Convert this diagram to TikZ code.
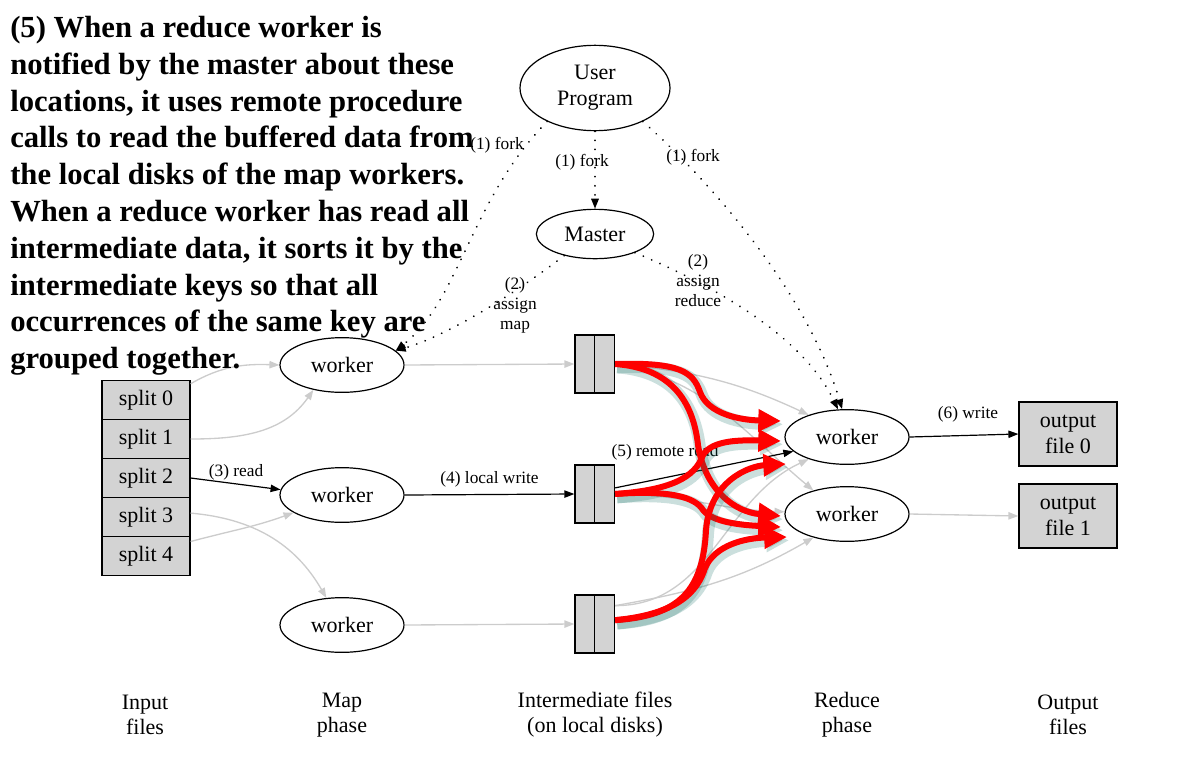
\documentclass[tikz,border=0pt]{standalone}
\usepackage{fontspec}
\setmainfont{Liberation Serif}
\usetikzlibrary{shapes.geometric,arrows.meta}

\definecolor{edgegray}{RGB}{204,204,204}
\definecolor{boxgray}{RGB}{211,211,211}
\definecolor{glow}{RGB}{20,110,100}

\tikzset{
  every node/.style={font=\fontsize{16.5}{19.5}\selectfont},
  job/.style={draw,ellipse,line width=0.9pt,minimum width=93pt,minimum height=41pt,inner sep=0pt},
  filebox/.style={draw,fill=boxgray,line width=0.9pt,minimum width=66pt,minimum height=29.25pt,inner sep=0pt},
  half/.style={draw,fill=boxgray,line width=0.9pt,minimum width=15pt,minimum height=43.5pt,inner sep=0pt},
  tip/.style={-{Triangle[length=7.5pt,width=5.5pt]}},
  faint/.style={tip,edgegray,line width=1pt},
  solid edge/.style={tip,black,line width=0.9pt},
  dots/.style={tip,line width=1.5pt,dash pattern=on 0.01pt off 6.8pt,line cap=round},
  lbl/.style={font=\fontsize{13}{15}\selectfont,align=center,inner sep=0pt},
  phase/.style={font=\fontsize{16.5}{18.75}\selectfont,align=center},
  hot/.style={-{Triangle[length=17pt,width=16pt]},red,line width=4.5pt,
    preaction={draw=glow,opacity=0.22,line width=9pt,transform canvas={shift={(1.5pt,-2.5pt)}}}},
}

\begin{document}
\begin{tikzpicture}[x=0.75pt,y=-0.75pt]
  \useasboundingbox (0,0) rectangle (1187,761);

  \node[job,minimum width=112.5pt,minimum height=64pt,align=center] (up) at (595,88) {User\\Program};
  \node[job,minimum width=88pt,minimum height=37pt] (master) at (595,234) {Master};
  \node[job] (m1) at (342,365) {worker};
  \node[job] (m2) at (342,495) {worker};
  \node[job] (m3) at (342,625) {worker};
  \node[job] (r1) at (847,437) {worker};
  \node[job] (r2) at (847,514) {worker};
  \foreach \k in {0,...,4}
    \node[filebox] (s\k) at (146,{400+39*\k}) {split \k};
  \foreach \k/\y in {1/364,2/494,3/624} {
    \node[half] (f\k) at (585,\y) {};
    \node[half] (g\k) at (604.5,\y) {};
  }
  \node[filebox,minimum width=73.5pt,minimum height=48pt,align=center] (out0) at (1068,434) {output\\file 0};
  \node[filebox,minimum width=73.5pt,minimum height=48pt,align=center] (out1) at (1068,516) {output\\file 1};

  \node[phase] (inlbl) at (145,715) {Input\\files};
  \node[phase] (maplbl) at (342,715) {Map\\phase};
  \node[phase] (midlbl) at (595,715) {Intermediate files\\(on local disks)};
  \node[phase] (redlbl) at (847,715) {Reduce\\phase};
  \node[phase] (outlbl) at (1068,715) {Output\\files};

  \draw[dots] (up) -- (master);
  \node[lbl] (fork2) at (582,162) {(1) fork};
  \draw[dots] (up.215) .. controls (470,200) and (460,300) .. (m1.15);
  \node[lbl] (fork1) at (497,145) {(1) fork};
  \draw[dots] (up.325) .. controls (720,190) and (810,300) .. (r1.100);
  \node[lbl] (fork3) at (693,157) {(1) fork};
  \draw[dots] (master.215) .. controls (520,290) and (450,335) .. (m1.15);
  \node[lbl] (amap) at (515,305) {(2)\\assign\\map};
  \draw[dots] (master.335) .. controls (700,280) and (800,330) .. (r1.108);
  \node[lbl] (ared) at (698,281) {(2)\\assign\\reduce};

  \draw[faint] (s0.20) to[out=30,in=178] (m1.west);
  \draw[faint] (s1.east) to[out=0,in=235] (m1.221);
  \draw[solid edge] (s2.east) -- (m2.175);
  \node[lbl] (readlbl) at (236,472) {(3) read};
  \draw[faint] (s3.5) to[out=-5,in=120] (m3.120);
  \draw[faint] (s4.18) to[out=15,in=200] (m2.200);

  \draw[faint] (m1.east) -- (f1.west);
  \draw[solid edge] (m2.east) -- (f2.west) node[lbl,midway,above=5pt] {(4) local write};
  \draw[faint] (m3.east) -- (f3.west);

  \draw[faint] (g1.east) to[out=-5,in=155] (r1.150);
  \draw[faint] (g1.east) to[out=-10,in=140] (r2.145);
  \draw[solid edge] (g2.30) -- (r1.195);
  \node[lbl] (rrlbl) at (665,452) {(5) remote read};
  \draw[faint] (g2.east) to[out=0,in=178] (r2.178);
  \draw[faint] (g3.60) to[out=0,in=205] (r1.210);
  \draw[faint] (g3.60) to[out=10,in=210] (r2.215);

  \draw[solid edge] (r1.east) -- (out0.west);
  \node[lbl] (writelbl) at (968,414) {(6) write};
  \draw[faint] (r2.east) -- (out1.west);

  \coordinate (t1) at (781,421);
  \coordinate (t2) at (781,441);
  \coordinate (t3) at (786,464);
  \coordinate (t4) at (781,516);
  \coordinate (t5) at (781,527);
  \coordinate (t6) at (787,537);
  \draw[hot] (g1.east) .. controls (680,362) and (693,372) .. (700,392) .. controls (708,414) and (740,420) .. (t1);
  \draw[hot] (g1.east) .. controls (670,368) and (693,400) .. (698,445) .. controls (705,490) and (735,512) .. (t4);
  \draw[hot] (g2.east) .. controls (670,490) and (695,478) .. (703,455) .. controls (712,440) and (740,440) .. (t2);
  \draw[hot] (g2.east) .. controls (670,490) and (695,497) .. (703,510) .. controls (712,522) and (740,525) .. (t5);
  \draw[hot] (g3.20) .. controls (680,616) and (703,590) .. (706,530) .. controls (710,480) and (750,466) .. (t3);
  \draw[hot] (g3.20) .. controls (680,614) and (698,590) .. (705,568) .. controls (715,545) and (745,538) .. (t6);

  \node[anchor=north west,inner sep=0pt,align=left,font=\fontsize{23}{27.6}\selectfont\bfseries] (note) at (10,16)
    {(5) When a reduce worker is\\
     notified by the master about these\\
     locations, it uses remote procedure\\
     calls to read the buffered data from\\
     the local disks of the map workers.\\
     When a reduce worker has read all\\
     intermediate data, it sorts it by the\\
     intermediate keys so that all\\
     occurrences of the same key are\\
     grouped together.};
\end{tikzpicture}
\end{document}
